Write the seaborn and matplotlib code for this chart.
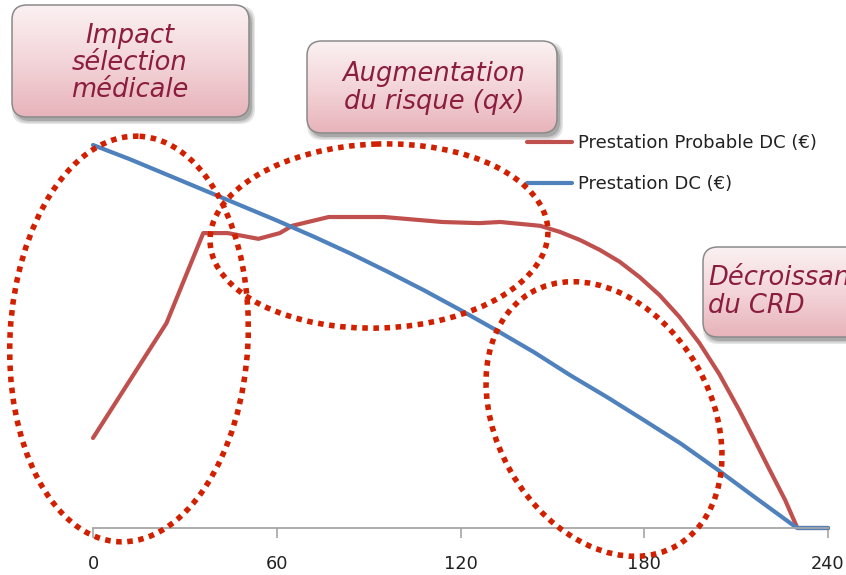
import numpy as np
import pandas as pd
import matplotlib
matplotlib.use("Agg")
import matplotlib.pyplot as plt
import seaborn as sns
from matplotlib.patches import FancyBboxPatch, Ellipse
from matplotlib.colors import LinearSegmentedColormap

# ---------------- data ----------------
months_dc = [0, 12, 24, 36, 48, 60, 72, 84, 96, 108, 120, 132, 144, 156,
             168, 180, 192, 204, 216, 228, 230, 240]
prestation_dc = [100.0, 96.3, 92.3, 88.3, 84.3, 80.3, 76.1, 71.7, 67.0, 62.1,
                 56.9, 51.5, 45.9, 39.8, 34.1, 28.1, 22.0, 15.2, 8.1, 1.1, 0.0, 0.0]

months_prob = [0, 24, 36, 44, 54, 61, 65, 77, 95, 114, 126, 133, 146, 152.5,
               159, 165.5, 172, 178.5, 185, 191.5, 198, 204.5, 211, 216, 221,
               226, 230, 240]
prestation_prob = [23.5, 53.5, 77.0, 77.0, 75.5, 77.0, 78.9, 81.2, 81.2, 79.9,
                   79.6, 79.9, 78.9, 77.3, 75.2, 72.6, 69.5, 65.5, 60.8, 55.1,
                   48.3, 40.2, 30.8, 23.0, 15.1, 7.3, 0.0, 0.0]

x_ticks = [0, 60, 120, 180, 240]
series_labels = ["Prestation Probable DC (€)", "Prestation DC (€)"]
callout_texts = ["Impact\nsélection\nmédicale",
                 "Augmentation\ndu risque (qx)",
                 "Décroissance\ndu CRD"]

df_prob = pd.DataFrame({"mois": months_prob, "valeur": prestation_prob})
df_dc = pd.DataFrame({"mois": months_dc, "valeur": prestation_dc})

# ---------------- style ----------------
sns.set_theme(style="white")
plt.rcParams['font.family'] = ['DejaVu Sans']

W, H = 846, 575
fig = plt.figure(figsize=(W / 100, H / 100), dpi=100)
fig.patch.set_facecolor("white")

axis_px = 528
px_per_unit = 3.83
ymax = 110
ax_h = ymax * px_per_unit
ax = fig.add_axes([93 / W, (H - axis_px) / H, 735 / W, ax_h / H])

RED = "#C0504D"
BLUE = "#4F81BD"
sns.lineplot(data=df_prob, x="mois", y="valeur", color=RED, lw=3.0,
             label=series_labels[0], ax=ax, clip_on=False)
sns.lineplot(data=df_dc, x="mois", y="valeur", color=BLUE, lw=3.0,
             label=series_labels[1], ax=ax, clip_on=False)

ax.set_xlim(0, 240)
ax.set_ylim(0, ymax)
ax.set_xticks(x_ticks)
ax.set_xticklabels([str(t) for t in x_ticks])
ax.set_yticks([])
ax.set_xlabel("")
ax.set_ylabel("")
for s in ["left", "top", "right"]:
    ax.spines[s].set_visible(False)
ax.spines["bottom"].set_color("#A6A6A6")
ax.spines["bottom"].set_linewidth(1.3)
ax.tick_params(axis="x", bottom=True, direction="out", length=7, width=1.2,
               color="#A6A6A6", pad=12.5, labelsize=12.8, labelcolor="#222222")
ax.patch.set_alpha(0)

leg = ax.legend(loc="upper left", bbox_to_anchor=(527 / W, 1 - 134 / H),
                bbox_transform=fig.transFigure, frameon=False, fontsize=13,
                handlelength=2.5, handletextpad=0.3, labelspacing=1.3,
                borderaxespad=0, borderpad=0)
for t in leg.get_texts():
    t.set_color("#222222")

# ---------------- overlay: callouts & dotted ellipses ----------------
ov = fig.add_axes([0, 0, 1, 1], zorder=5)
ov.set_xlim(0, W)
ov.set_ylim(H, 0)
ov.axis("off")
ov.patch.set_alpha(0)

DOT = "#D02000"
ellipses = [((129, 339), 238, 406, 3),
            ((379, 236), 338, 184, -2),
            ((604, 419), 214, 292, -30)]
for (c, w, h, ang) in ellipses:
    ov.add_patch(Ellipse(c, w, h, angle=ang, fill=False, edgecolor=DOT,
                         lw=4.0, linestyle=(0, (1, 1.0)), zorder=3))

grad_cmap = LinearSegmentedColormap.from_list("pinkgrad", ["#FBF1F2", "#F3D5D9", "#E7B3BA"])
TXT = "#8B1E3F"


def callout(x0, y0, x1, y1, text, tx, ty, ha):
    w, h = x1 - x0, y1 - y0
    style = "round,pad=0,rounding_size=15"
    # soft shadow
    for dx, dy, a, grow in [(3, 4, 0.10, 3), (3, 4, 0.12, 1.5), (3, 4, 0.16, 0)]:
        ov.add_patch(FancyBboxPatch((x0 + dx - grow, y0 + dy - grow), w + 2 * grow, h + 2 * grow,
                                    boxstyle=style, fc="#000000", ec="none", alpha=a, zorder=4))
    box = FancyBboxPatch((x0, y0), w, h, boxstyle=style, fc="#F3D3D7", ec="none", zorder=5)
    ov.add_patch(box)
    img = np.linspace(0, 1, 256).reshape(-1, 1)
    im = ov.imshow(img, extent=(x0, x1, y1, y0), cmap=grad_cmap, aspect="auto",
                   origin="upper", zorder=5.5, interpolation="bilinear")
    im.set_clip_path(box)
    ov.add_patch(FancyBboxPatch((x0, y0), w, h, boxstyle=style, fc="none",
                                ec="#8A8A8A", lw=1.1, zorder=6))
    ov.text(tx, ty, text, ha=ha, va="center", multialignment=ha, fontsize=18.5,
            style="italic", color=TXT, linespacing=1.07, zorder=7)


callout(12, 5, 249, 117, callout_texts[0], 130, 63, "center")
callout(307, 41, 557, 133, callout_texts[1], 434, 88, "center")
callout(703, 247, 920, 337, callout_texts[2], 708, 292, "left")

ov.set_xlim(0, W)
ov.set_ylim(H, 0)

fig.savefig("out.png", dpi=100)
